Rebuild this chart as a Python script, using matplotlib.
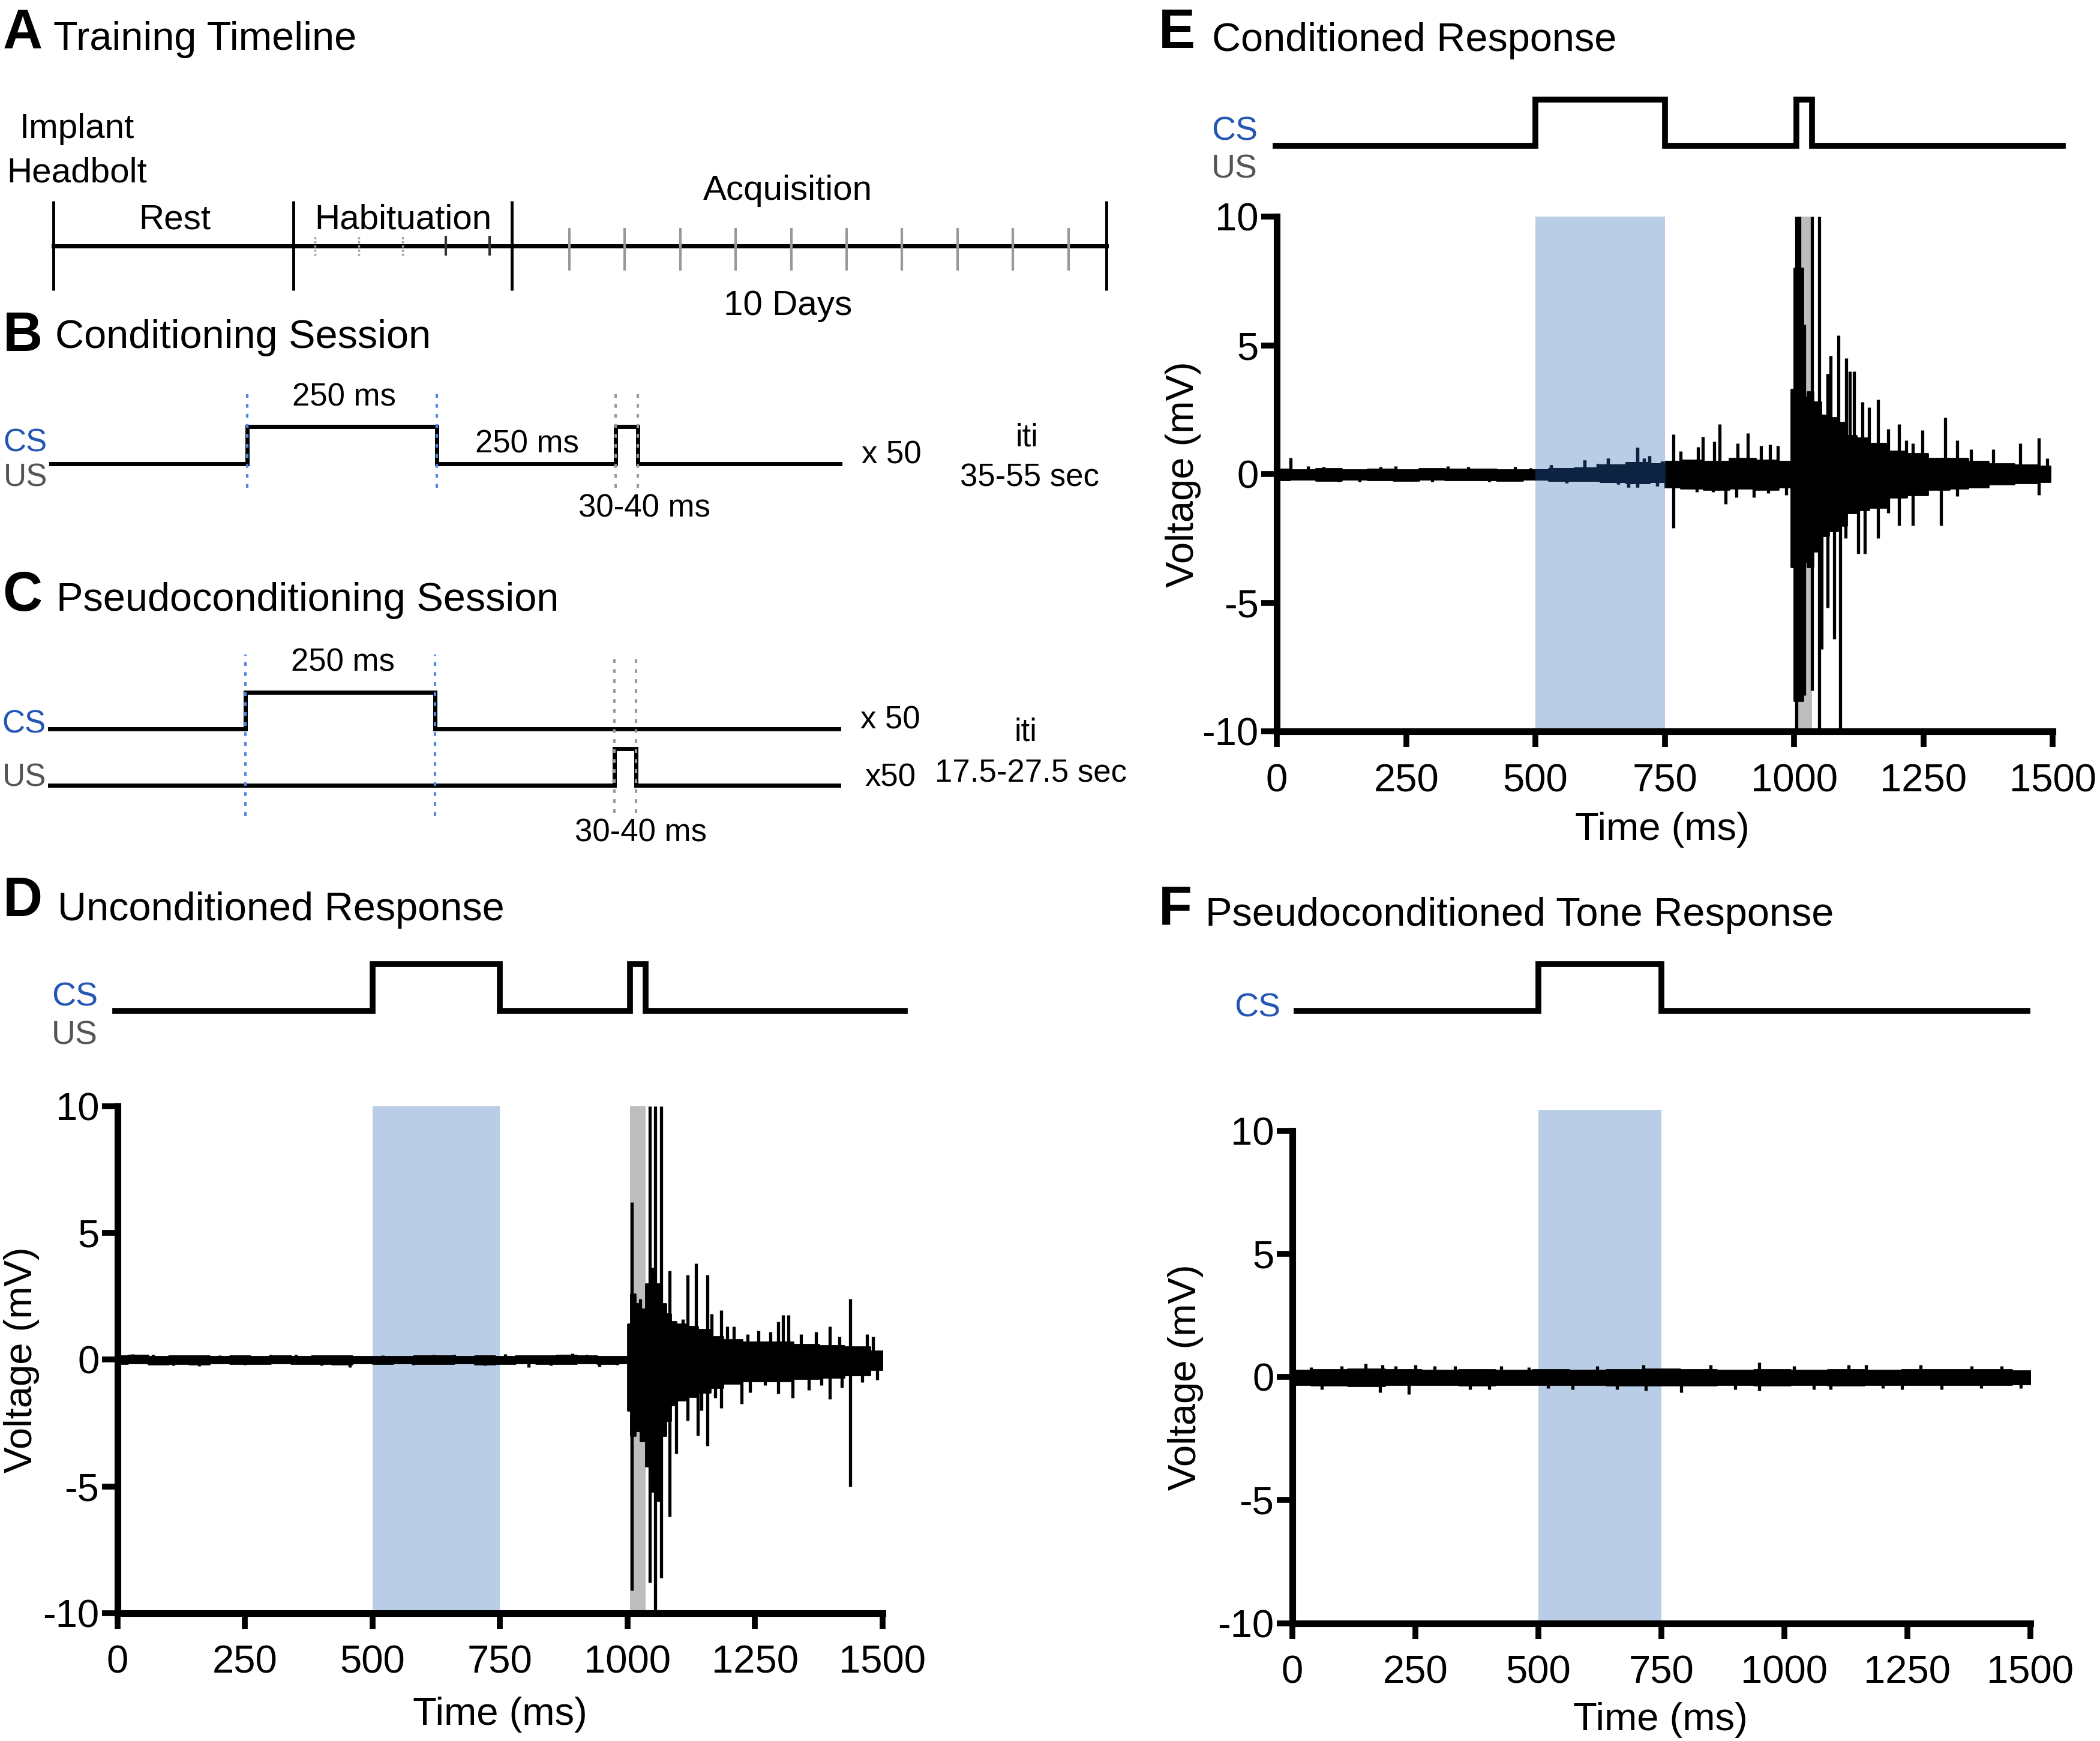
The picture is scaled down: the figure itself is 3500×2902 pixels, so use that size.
import numpy as np
import matplotlib.pyplot as plt
from matplotlib.patches import Rectangle

plt.rcParams['font.family'] = ['Liberation Sans', 'DejaVu Sans']

# ---------------- data ----------------
# schematic timings (ms)
b_cs = (0, 250)
b_us = (486, 515)
trial_cs = (500, 750)
trial_us = (1005, 1035)

time_ticks = [0, 250, 500, 750, 1000, 1250, 1500]
volt_ticks = [-10, -5, 0, 5, 10]
volt_labels = ['-10', '-5', '0', '5', '10']

# training timeline
phases = ['Rest', 'Habituation', 'Acquisition']
hab_solid = [False, False, False, True, True]
acq_days = 10

# D: unconditioned response (ms, mV)
d_env_t = [0, 40, 80, 120, 160, 200, 240, 280, 320, 360, 400, 440, 480,
           520, 560, 600, 640, 680, 720, 760, 800, 840, 880, 920, 960, 998,
           1002, 1010, 1020, 1030, 1040, 1050, 1060, 1070, 1080, 1090, 1100,
           1125, 1150, 1175, 1200, 1250, 1300, 1350, 1400, 1450, 1500]
d_env_hi = [0.15, 0.18, 0.12, 0.16, 0.14, 0.12, 0.15, 0.13, 0.16, 0.12, 0.14, 0.15, 0.12,
            0.13, 0.12, 0.14, 0.16, 0.13, 0.15, 0.12, 0.14, 0.15, 0.17, 0.14, 0.13, 0.12,
            1.4, 2.6, 2.2, 2.0, 3.0, 3.6, 3.0, 2.2, 1.8, 1.5, 1.4,
            1.3, 1.2, 0.9, 0.8, 0.7, 0.7, 0.6, 0.55, 0.5, 0.35]
d_env_lo = [-0.16, -0.14, -0.18, -0.15, -0.17, -0.14, -0.16, -0.15, -0.13, -0.16, -0.15, -0.17, -0.14,
            -0.15, -0.13, -0.16, -0.15, -0.14, -0.17, -0.15, -0.14, -0.16, -0.15, -0.14, -0.16, -0.14,
            -2.0, -3.0, -2.8, -3.2, -4.2, -5.2, -4.5, -3.0, -2.4, -1.8, -1.6,
            -1.45, -1.3, -1.1, -0.95, -0.85, -0.85, -0.75, -0.7, -0.6, -0.4]
d_spk_t = [30, 160, 300, 455, 620, 720, 806, 892, 945,
           70, 110, 200, 250, 350, 400, 520, 580, 660, 760, 850, 920, 980,
           1008, 1008, 1020, 1025, 1044, 1044, 1054, 1054, 1060, 1066, 1066, 1082, 1082,
           1095, 1118, 1118, 1134, 1138, 1156, 1156, 1165, 1183, 1183, 1208, 1224, 1256,
           1295, 1295, 1305, 1315, 1324, 1397, 1397, 1436, 1436, 1481,
           1108, 1145, 1172, 1195, 1235, 1240, 1270, 1280, 1340, 1355, 1370, 1380,
           1415, 1420, 1460, 1470, 1490]
d_spk_v = [0.22, -0.25, 0.2, -0.3, 0.2, -0.22, -0.3, 0.25, -0.28,
           0.2, -0.22, 0.18, -0.2, 0.2, -0.22, 0.18, -0.2, 0.2, 0.22, -0.22, 0.2, -0.2,
           6.2, -9.1, 2.2, 2.4, 10, -8.8, 10, -10, -5.6, 10, -8.6, 3.5, -6.2,
           -3.7, 3.35, -2.4, 3.8, -3.0, 3.35, -3.4, 1.8, 1.95, -1.9, 1.3, -1.75, 1.15,
           1.5, -1.35, 1.75, 1.75, -1.5, 1.3, -1.55, 2.4, -5.0, 0.9,
           1.6, -2.0, -1.5, 1.3, 1.0, -1.3, -1.0, 1.1, 1.0, -1.2, 1.1, -1.0,
           0.9, -1.1, -0.9, 1.0, -0.8]

# E: conditioned response
e_env_t = [0, 50, 100, 150, 200, 250, 300, 350, 400, 450, 500,
           550, 600, 650, 700,
           740, 760, 800, 850, 900, 950, 990,
           998, 1002, 1014, 1020, 1030, 1043, 1060, 1075, 1093, 1110, 1130, 1159,
           1200, 1236, 1280, 1320, 1352, 1400, 1450, 1495]
e_env_hi = [0.2, 0.17, 0.22, 0.18, 0.2, 0.16, 0.21, 0.19, 0.2, 0.18, 0.17,
            0.22, 0.25, 0.35, 0.45,
            0.4, 0.5, 0.55, 0.5, 0.6, 0.55, 0.5,
            3.3, 8.0, 8.0, 3.0, 3.2, 2.8, 2.3, 2.2, 2.0, 1.5, 1.4, 1.2,
            0.9, 0.8, 0.6, 0.6, 0.5, 0.4, 0.35, 0.3]
e_env_lo = [-0.22, -0.2, -0.24, -0.2, -0.22, -0.25, -0.2, -0.23, -0.22, -0.24, -0.2,
            -0.24, -0.26, -0.3, -0.35,
            -0.3, -0.5, -0.55, -0.6, -0.55, -0.6, -0.5,
            -3.6, -8.8, -8.8, -3.4, -3.6, -3.0, -2.4, -2.2, -2.0, -1.5, -1.4, -1.3,
            -0.9, -0.8, -0.6, -0.55, -0.5, -0.4, -0.35, -0.3]
e_spk_t = [27, 60, 120, 200, 260, 330, 410, 460, 595, 640, 680, 697, 697, 720,
           90, 160, 230, 300, 370, 440, 490, 530, 560, 620, 660, 710, 735, 745,
           767, 767, 780, 812, 814, 824, 843, 845, 856, 868, 889, 891, 910, 922, 936, 950, 953, 968, 985,
           1004, 1004, 1010, 1020, 1020, 1035, 1035, 1049, 1049, 1053, 1065, 1065, 1071, 1077, 1086,
           1089, 1099, 1101, 1108, 1116, 1124, 1132, 1137, 1145, 1162, 1162, 1182, 1182, 1203, 1203,
           1217, 1230, 1230, 1248, 1284, 1292, 1315, 1315, 1342, 1385, 1437, 1473, 1473, 1489]
e_spk_v = [0.63, 0.3, -0.3, 0.28, -0.28, 0.3, -0.3, 0.28, 0.53, 0.6, -0.5, 1.04, -0.5, 0.7,
           0.28, -0.3, 0.3, -0.3, 0.28, -0.28, 0.25, 0.35, -0.35, 0.4, -0.4, 0.6, -0.45, 0.5,
           1.55, -2.1, 0.9, -0.7, 1.05, 1.45, -0.7, 1.27, 1.93, -1.16, -0.9, 1.2, 1.6, -0.9, 1.1, -0.75, 1.15, 1.1, -0.8,
           10, -10, 10, 5.8, -8.6, 10, -8.4, 10, -10, -6.8, 3.9, -5.2, 4.6, -6.4, 5.4,
           -10, -2.5, 4.5, 4.0, 4.0, -3.1, 2.8, -3.1, 2.6, 2.9, -2.5, 1.75, -1.5, 1.95, -2.0,
           1.3, 1.2, -2.0, 1.7, -2.0, 2.2, 1.3, -0.85, 0.95, 0.95, 1.2, 1.4, -0.8, 0.6]

# F: pseudoconditioned tone response
f_env_t = [0, 75, 150, 225, 300, 375, 450, 525, 600, 675, 750,
           825, 900, 975, 1050, 1125, 1200, 1275, 1350, 1425, 1500]
f_env_hi = [0.28, 0.3, 0.32, 0.3, 0.27, 0.3, 0.28, 0.3, 0.27, 0.3, 0.32,
            0.3, 0.27, 0.3, 0.28, 0.31, 0.28, 0.3, 0.29, 0.3, 0.26]
f_env_lo = [-0.3, -0.33, -0.35, -0.32, -0.3, -0.33, -0.3, -0.32, -0.31, -0.33, -0.34,
            -0.33, -0.3, -0.33, -0.31, -0.33, -0.3, -0.32, -0.31, -0.32, -0.28]
f_spk_t = [38, 149, 178, 183, 236, 250, 289, 361, 424, 569,
           713, 718, 790, 949, 949, 1094, 1166, 1239, 1277, 1441,
           60, 100, 210, 330, 400, 480, 520, 620, 660, 850,
           900, 1020, 1060, 1130, 1200, 1320, 1380, 1400, 1480]
f_spk_v = [0.4, 0.55, -0.62, 0.5, -0.7, 0.5, 0.45, -0.5, 0.45, -0.5,
           0.5, -0.55, -0.62, 0.6, -0.55, -0.5, 0.5, -0.5, 0.5, 0.45,
           -0.5, 0.45, 0.45, 0.45, -0.5, 0.4, -0.45, 0.45, -0.5, 0.5,
           -0.5, 0.45, -0.5, 0.5, -0.45, -0.5, 0.45, -0.45, -0.45]

# ---------------- layout ----------------
W, H = 1568.0, 1300.0          # reference layout units
CS_BLUE = '#2456b4'
US_GRAY = '#555555'
SPAN_BLUE = '#bacde6'
SPAN_GRAY = '#bdbdbd'

fig = plt.figure(figsize=(35, 29.02), dpi=100)


def box(x0, x1, y_bottom, y_top):
    return fig.add_axes([x0 / W, 1 - y_bottom / H, (x1 - x0) / W, (y_bottom - y_top) / H])


def label(px, py, s, **kw):
    kw.setdefault('fontsize', 38)
    fig.text(px / W, 1 - py / H, s, **kw)


# panel headings
for letter, lx, lbase, title, tx, tbase in [
        ('A', 2, 36, 'Training Timeline', 40, 37),
        ('B', 2, 262, 'Conditioning Session', 41, 260),
        ('C', 2, 456, 'Pseudoconditioning Session', 42, 456),
        ('D', 2, 684, 'Unconditioned Response', 43, 687),
        ('E', 865, 36, 'Conditioned Response', 905, 38),
        ('F', 865, 690, 'Pseudoconditioned Tone Response', 900, 691)]:
    label(lx, lbase, letter, fontsize=66, fontweight='bold', va='baseline')
    label(tx, tbase, title, fontsize=48, va='baseline')

# ---- A: training timeline ----
ax_a = box(40, 826, 217, 150)
ax_a.set_xlim(0, 1)
ax_a.set_ylim(-1, 1)
ax_a.axis('off')
edges = [0, 0.2277, 0.4351, 1.0]
ax_a.plot([0, 1], [0, 0], color='black', lw=5, clip_on=False)
ax_a.vlines(edges, -1, 1, color='black', lw=3.5, clip_on=False)
hab_w = (edges[2] - edges[1]) / len(hab_solid)
for i, solid in enumerate(hab_solid):
    x = edges[1] + (i + 0.5) * hab_w
    if solid:
        ax_a.vlines(x, -0.22, 0.22, color='#333333', lw=3)
    else:
        ax_a.vlines(x, -0.22, 0.22, color='#a0a0a0', lw=2.5, linestyles=(0, (1, 1)))
ax_a.vlines(np.linspace(0.49, 0.964, acq_days), -0.55, 0.4, color='#999999', lw=3)

label(57.5, 103, 'Implant', fontsize=42, ha='center', va='baseline')
label(57.5, 136, 'Headbolt', fontsize=42, ha='center', va='baseline')
label(130.5, 171, phases[0], fontsize=42, ha='center', va='baseline')
label(301, 171, phases[1], fontsize=42, ha='center', va='baseline')
label(588, 149, phases[2], fontsize=42, ha='center', va='baseline')
label(588.5, 235, f'{acq_days} Days', fontsize=42, ha='center', va='baseline')

dot_style = (0, (1.5, 2.5))

# ---- B: conditioning session ----
ax_b = box(184.4, 326, 346.5, 318.6)
ax_b.set_xlim(b_cs)
ax_b.set_ylim(0, 1)
ax_b.axis('off')
xs = [-258, b_cs[0], b_cs[0], b_cs[1], b_cs[1], b_us[0], b_us[0], b_us[1], b_us[1], 782]
ys = [0, 0, 1, 1, 0, 0, 1, 1, 0, 0]
ax_b.plot(xs, ys, color='black', lw=5, clip_on=False, solid_joinstyle='miter')
ax_b.vlines(b_cs, -0.63, 2.0, color='#4f86e8', lw=3, linestyles=dot_style, clip_on=False)
ax_b.vlines(b_us, -0.63, 2.0, color='#999999', lw=3, linestyles=dot_style, clip_on=False)
tk = dict(fontsize=38, ha='center', va='baseline')
ax_b.text(128, 1.56, '250 ms', **tk)
ax_b.text(369, 0.30, '250 ms', **tk)
ax_b.text(524, -1.42, '30-40 ms', **tk)
ax_b.text(850, 0.02, 'x 50', **tk)
ax_b.text(1028, 0.48, 'iti', **tk)
ax_b.text(1032, -0.59, '35-55 sec', **tk)
ax_b.text(-321, 0.34, 'CS', fontsize=38, color=CS_BLUE, va='baseline')
ax_b.text(-321, -0.59, 'US', fontsize=38, color=US_GRAY, va='baseline')

# ---- C: pseudoconditioning session ----
ax_c = box(183.4, 325, 544.5, 517)
ax_c.set_xlim(b_cs)
ax_c.set_ylim(0, 1)
ax_c.axis('off')
us_base, us_top = -1.527, -0.527
ax_c.plot([-258, b_cs[0], b_cs[0], b_cs[1], b_cs[1], 782], [0, 0, 1, 1, 0, 0],
          color='black', lw=5, clip_on=False, solid_joinstyle='miter')
ax_c.plot([-258, b_us[0], b_us[0], b_us[1], b_us[1], 782],
          [us_base, us_base, us_top, us_top, us_base, us_base],
          color='black', lw=5, clip_on=False, solid_joinstyle='miter')
ax_c.vlines(b_cs, -2.35, 2.02, color='#4f86e8', lw=3, linestyles=dot_style, clip_on=False)
ax_c.vlines(b_us, -2.27, 2.02, color='#999999', lw=3, linestyles=dot_style, clip_on=False)
ax_c.text(128, 1.58, '250 ms', **tk)
ax_c.text(850, 0.02, 'x 50', **tk)
ax_c.text(1028, -0.31, 'iti', **tk)
ax_c.text(850, -1.55, 'x50', **tk)
ax_c.text(1035, -1.44, '17.5-27.5 sec', **tk)
ax_c.text(521, -3.04, '30-40 ms', **tk)
ax_c.text(-321, -0.09, 'CS', fontsize=38, color=CS_BLUE, va='baseline')
ax_c.text(-321, -1.55, 'US', fontsize=38, color=US_GRAY, va='baseline')


# ---- D/E/F traces ----
def stimulus(ax, x_start, x_end, with_us=True):
    ax.set_xlim(0, 1500)
    ax.set_ylim(0, 1)
    ax.axis('off')
    xs = [x_start, trial_cs[0], trial_cs[0], trial_cs[1], trial_cs[1]]
    ys = [0, 0, 1, 1, 0]
    if with_us:
        xs += [trial_us[0], trial_us[0], trial_us[1], trial_us[1]]
        ys += [0, 1, 1, 0]
    xs.append(x_end)
    ys.append(0)
    ax.plot(xs, ys, color='black', lw=7, clip_on=False, solid_joinstyle='miter')


def draw_trace(ax, env_t, env_hi, env_lo, spk_t, spk_v, color='black'):
    band = ax.fill_between(env_t, env_lo, env_hi, step='mid', color=color, lw=2, zorder=2)
    spikes = ax.vlines(spk_t, 0, spk_v, color=color, lw=3.8, zorder=2)
    return [band, spikes]


def style(ax):
    ax.set_xlim(0, 1500)
    ax.set_ylim(-10, 10)
    for s in ['top', 'right']:
        ax.spines[s].set_visible(False)
    for s in ['left', 'bottom']:
        ax.spines[s].set_linewidth(8)
        ax.spines[s].set_capstyle('projecting')
    ax.set_xticks(time_ticks)
    ax.set_yticks(volt_ticks)
    ax.set_yticklabels(volt_labels)
    ax.tick_params(width=7, length=19, labelsize=47)
    ax.tick_params(axis='x', pad=19)
    ax.tick_params(axis='y', pad=3)
    ax.set_xlabel('Time (ms)', fontsize=47)
    ax.set_ylabel('Voltage (mV)', fontsize=47)


# D
ax_d = box(87.8, 659, 1204.5, 826)
style(ax_d)
ax_d.axvspan(*trial_cs, color=SPAN_BLUE, lw=0, zorder=0)
ax_d.axvspan(*trial_us, color=SPAN_GRAY, lw=0, zorder=0)
draw_trace(ax_d, d_env_t, d_env_hi, d_env_lo, d_spk_t, d_spk_v)
ax_d.yaxis.set_label_coords(-0.1016, 0.5)
ax_d.xaxis.set_label_coords(0.5, -0.165)
stimulus(box(87.8, 659, 755, 720), -5, 1543)
label(73, 751, 'CS', fontsize=40, color=CS_BLUE, ha='right', va='baseline')
label(73, 779.6, 'US', fontsize=40, color=US_GRAY, ha='right', va='baseline')

# E
ax_e = box(953.4, 1532.7, 546.2, 161.8)
style(ax_e)
ax_e.axvspan(*trial_cs, color=SPAN_BLUE, lw=0, zorder=0)
ax_e.axvspan(*trial_us, color=SPAN_GRAY, lw=0, zorder=0)
draw_trace(ax_e, e_env_t, e_env_hi, e_env_lo, e_spk_t, e_spk_v)
# trace inside the tone window shows through the shading as dark navy
clip = Rectangle((trial_cs[0], -10), trial_cs[1] - trial_cs[0], 20, transform=ax_e.transData)
for art in draw_trace(ax_e, e_env_t, e_env_hi, e_env_lo, e_spk_t, e_spk_v, color='#0c2342'):
    art.set_clip_path(clip)
ax_e.yaxis.set_label_coords(-0.0974, 0.5)
ax_e.xaxis.set_label_coords(0.497, -0.1556)
stimulus(box(953.4, 1532.7, 108.7, 74.2), -3, 1520)
label(939, 104.5, 'CS', fontsize=40, color=CS_BLUE, ha='right', va='baseline')
label(939, 133, 'US', fontsize=40, color=US_GRAY, ha='right', va='baseline')

# F
ax_f = box(965, 1516, 1212, 844.4)
style(ax_f)
ax_f.add_patch(Rectangle((trial_cs[0], -10), trial_cs[1] - trial_cs[0], 20.85,
                         color=SPAN_BLUE, lw=0, zorder=0, clip_on=False))
draw_trace(ax_f, f_env_t, f_env_hi, f_env_lo, f_spk_t, f_spk_v)
ax_f.yaxis.set_label_coords(-0.12, 0.5)
ax_f.xaxis.set_label_coords(0.499, -0.1606)
stimulus(box(965, 1516, 755, 720), 9, 1494, with_us=False)
label(956, 759, 'CS', fontsize=40, color=CS_BLUE, ha='right', va='baseline')

fig.savefig('out.png', dpi=100)
